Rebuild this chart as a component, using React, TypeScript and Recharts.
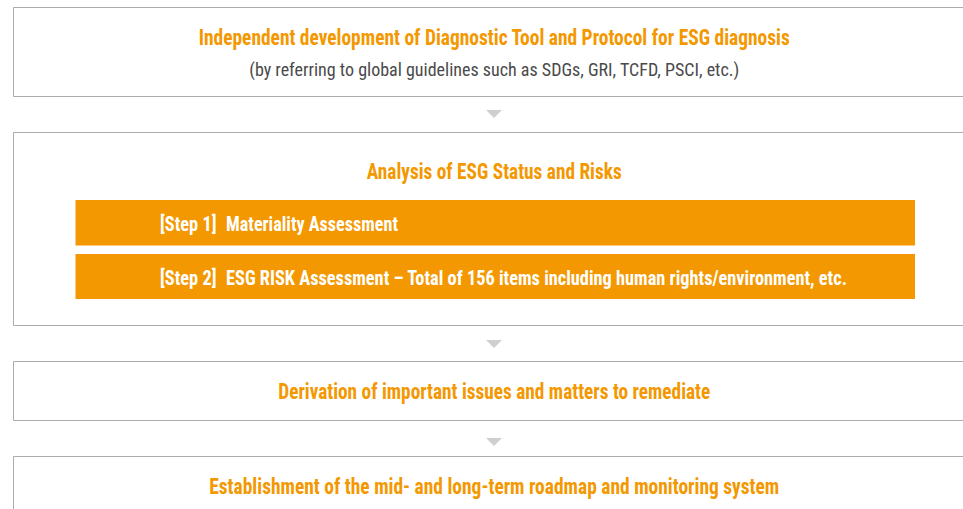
import React from "react";
import { ComposedChart, XAxis, YAxis, ReferenceArea, Scatter } from "recharts";

const stageTitles = [
  "Independent development of Diagnostic Tool and Protocol for ESG diagnosis",
  "Analysis of ESG Status and Risks",
  "Derivation of important issues and matters to remediate",
  "Establishment of the mid- and long-term roadmap and monitoring system",
];
const stageNotes = [
  "(by referring to global guidelines such as SDGs, GRI, TCFD, PSCI, etc.)",
  "",
  "",
  "",
];
const stepLabels = ["[Step 1]", "[Step 2]"];
const stepTexts = [
  "Materiality Assessment",
  "ESG RISK Assessment \u2013 Total of 156 items including human rights/environment, etc.",
];

// layout, in page pixels (axes map 1:1)
const W = 963;
const H = 509;
const boxX = [13.5, 975];
const stageTop = [7.5, 132.5, 361.5, 456.5];
const stageBottom = [96.5, 325.5, 420.5, 540];
const titleOffset = [37.5, 46, 37.5, 37.5];
const titleWidth = [591, 255, 432, 570];
const arrowY = [114, 344, 442];
const stepX = [75.5, 915];
const stepTop = [200, 254];
const stepBottom = [245.5, 299];
const stepLabelWidth = 56.5;
const stepTextWidth = [172, 621];

const ORANGE = "#F39800";
const FONT = "'Roboto Condensed', 'Liberation Sans Narrow', 'DejaVu Sans Condensed', Roboto, sans-serif";

const arrows = arrowY.map((y) => ({ x: 494, y }));

function Triangle(props: any) {
  const { cx, cy } = props;
  if (cx == null || cy == null) return null;
  return <path d={`M${cx - 8},${cy - 4}L${cx + 8},${cy - 4}L${cx},${cy + 4}Z`} fill="#cfcfcf" />;
}

function App() {
  return (
    <div style={{ position: "absolute", left: 0, top: 0 }}>
      <ComposedChart width={W} height={H} data={arrows} margin={{ top: 0, right: 0, bottom: 0, left: 0 }}>
        <XAxis type="number" dataKey="x" domain={[0, W]} hide allowDataOverflow />
        <YAxis type="number" dataKey="y" domain={[0, H]} hide reversed allowDataOverflow />
        {stageTitles.map((t, i) => (
          <ReferenceArea
            key={"s" + i}
            x1={boxX[0]}
            x2={boxX[1]}
            y1={stageTop[i]}
            y2={stageBottom[i]}
            ifOverflow="visible"
            fill="#ffffff"
            fillOpacity={1}
            stroke="#ababab"
            strokeWidth={1}
            label={(p: any) => {
              const vb = p.viewBox;
              const cx = vb.x + vb.width / 2;
              const top = Math.min(vb.y, vb.y + vb.height);
              return (
                <g>
                  <text x={cx} y={top + titleOffset[i]} textAnchor="middle" fill={ORANGE}
                    fontFamily={FONT} fontWeight={700} fontSize={22}
                    textLength={titleWidth[i]} lengthAdjust="spacingAndGlyphs">
                    {t}
                  </text>
                  {stageNotes[i] ? (
                    <text x={cx} y={top + 68.5} textAnchor="middle" fill="#4a4a4a"
                      fontFamily={FONT} fontSize={18}>
                      {stageNotes[i]}
                    </text>
                  ) : null}
                </g>
              );
            }}
          />
        ))}
        {stepTexts.map((t, i) => (
          <ReferenceArea
            key={"p" + i}
            x1={stepX[0]}
            x2={stepX[1]}
            y1={stepTop[i]}
            y2={stepBottom[i]}
            ifOverflow="visible"
            fill={ORANGE}
            fillOpacity={1}
            stroke="none"
            label={(p: any) => {
              const vb = p.viewBox;
              const top = Math.min(vb.y, vb.y + vb.height);
              const h = Math.abs(vb.height);
              return (
                <g fill="#ffffff" fontFamily={FONT} fontWeight={700} fontSize={20}>
                  <text x={vb.x + 84.5} y={top + h / 2 + 8.5}
                    textLength={stepLabelWidth} lengthAdjust="spacingAndGlyphs">
                    {stepLabels[i]}
                  </text>
                  <text x={vb.x + 150.5} y={top + h / 2 + 8.5}
                    textLength={stepTextWidth[i]} lengthAdjust="spacingAndGlyphs">
                    {t}
                  </text>
                </g>
              );
            }}
          />
        ))}
        <Scatter data={arrows} dataKey="y" shape={Triangle} isAnimationActive={false} />
      </ComposedChart>
    </div>
  );
}

export default App;
